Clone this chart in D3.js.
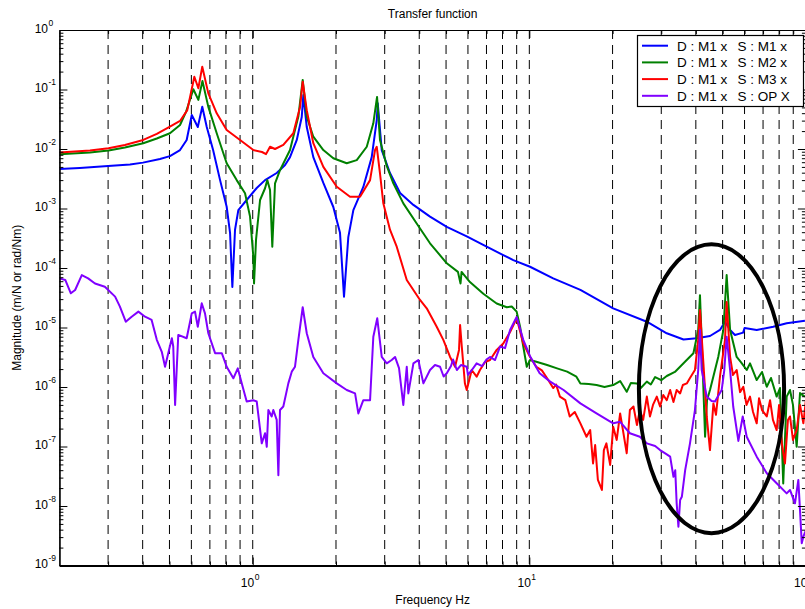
<!DOCTYPE html>
<html>
<head>
<meta charset="utf-8">
<script src="https://cdn.jsdelivr.net/npm/d3@7"></script>
<style>
  body { margin: 0; background: #fff; }
  text { font-family: "Liberation Sans", Arial, Helvetica, sans-serif; fill: #000; }
</style>
</head>
<body>
<svg id="chart" width="805" height="609"></svg>
<script>
// ---- data ----------------------------------------------------------------
const freqDomain = [0.2, 100];
const magDomain = [1e-9, 1];

const seriesLabels = [
  ["D : M1 x", "S : M1 x"],
  ["D : M1 x", "S : M2 x"],
  ["D : M1 x", "S : M3 x"],
  ["D : M1 x", "S : OP X"]
];
const seriesColors = ["#0000ff", "#008000", "#ff0000", "#8000ff"];

// [frequency Hz, magnitude]
const respM1 = [[0.2,4.6e-3],[0.237,4.8e-3],[0.3,5.2e-3],[0.36,5.5e-3],[0.401,5.9e-3],[0.462,6.8e-3],[0.502,7.6e-3],[0.546,9.6e-3],[0.577,1.42e-2],[0.602,3.73e-2],[0.633,2.34e-2],[0.657,5.14e-2],[0.682,2.34e-2],[0.719,9.6e-3],[0.762,3.0e-3],[0.805,1.07e-3],[0.828,3.9e-4],[0.844,4.8e-5],[0.863,4.4e-4],[0.887,9.4e-4],[0.951,1.39e-3],[1.034,2.21e-3],[1.108,3.0e-3],[1.221,3.95e-3],[1.309,5.4e-3],[1.364,7.3e-3],[1.443,1.42e-2],[1.504,3.45e-2],[1.524,8.1e-2],[1.568,2.34e-2],[1.656,7.3e-3],[1.8,2.69e-3],[1.956,1.06e-3],[2.068,3.9e-4],[2.138,3.3e-5],[2.216,3.3e-4],[2.311,9.4e-4],[2.511,2.3e-3],[2.693,7.3e-3],[2.808,3.07e-2],[2.831,5.9e-2],[2.927,9.6e-3],[3.135,3.95e-3],[3.41,1.82e-3],[3.81,1.15e-3],[4.375,7.3e-4],[5.03,4.9e-4],[5.94,3.4e-4],[7.01,2.28e-4],[8.05,1.65e-4],[8.75,1.36e-4],[10.06,1.05e-4],[12.2,6.7e-5],[15.3,4.3e-5],[20.1,2.1e-5],[26.6,1.25e-5],[31.4,8.0e-6],[36.1,6.3e-6],[40.3,6.6e-6],[45.0,7.2e-6],[48.9,9.1e-6],[51.0,1.25e-5],[53.2,9.1e-6],[55.4,7.5e-6],[59.3,8.2e-6],[60.0,9.8e-6],[66.4,9.1e-6],[76.2,1.03e-5],[85.2,1.18e-5],[99.2,1.3e-5]];

const respM2 = [[0.2,8.15e-3],[0.258,8.7e-3],[0.301,9.4e-3],[0.345,1.06e-2],[0.402,1.25e-2],[0.45,1.5e-2],[0.502,1.84e-2],[0.546,2.53e-2],[0.574,4.2e-2],[0.61,0.101],[0.636,6.7e-2],[0.658,0.139],[0.691,5.1e-2],[0.741,1.84e-2],[0.805,5.75e-3],[0.875,3.0e-3],[0.938,1.8e-3],[0.978,7.3e-4],[1.005,1.55e-4],[1.011,5.5e-5],[1.028,3.0e-4],[1.063,1.39e-3],[1.108,2.19e-3],[1.129,3.0e-3],[1.155,2.05e-3],[1.177,2.28e-4],[1.204,2.65e-3],[1.255,4.4e-3],[1.364,9.6e-3],[1.462,3.5e-2],[1.516,0.145],[1.568,3.5e-2],[1.656,1.61e-2],[1.8,9.6e-3],[1.956,7.0e-3],[2.187,5.75e-3],[2.377,6.5e-3],[2.584,1.09e-2],[2.729,2.7e-2],[2.815,7.5e-2],[2.885,1.42e-2],[3.051,5.2e-3],[3.224,2.65e-3],[3.503,1.22e-3],[3.916,5.6e-4],[4.375,2.6e-4],[5.03,1.2e-4],[5.52,8.6e-5],[5.64,5.5e-5],[5.69,8.6e-5],[6.1,5.8e-5],[6.82,3.7e-5],[7.62,2.53e-5],[8.29,2.19e-5],[8.64,2.25e-5],[9.0,1.85e-5],[9.26,1.03e-5],[9.51,4.8e-6],[9.79,2.19e-6],[10.06,2.84e-6],[10.6,2.66e-6],[11.6,2.34e-6],[12.6,2.06e-6],[13.7,1.81e-6],[14.8,1.49e-6],[15.3,1.15e-6],[16.4,1.12e-6],[17.5,1.08e-6],[18.7,1.0e-6],[20.1,1.08e-6],[21.3,1.26e-6],[22.5,8.3e-7],[23.3,1.17e-6],[24.5,1.15e-6],[25.3,9.6e-7],[26.6,1.23e-6],[27.5,1.1e-6],[28.5,1.47e-6],[30.0,1.3e-6],[31.4,1.53e-6],[33.6,1.79e-6],[36.1,2.5e-6],[39.2,3.7e-6],[40.8,9.1e-6],[41.4,3.5e-5],[42.0,6.2e-6],[43.2,1.46e-7],[43.9,6.0e-7],[45.0,8.9e-7],[48.2,3.2e-6],[50.3,9.1e-6],[51.7,7.6e-5],[53.2,9.1e-6],[56.2,3.2e-6],[58.3,2.6e-6],[61.1,1.93e-6],[62.8,2.5e-6],[66.4,1.31e-6],[69.4,1.79e-6],[72.2,1.01e-6],[74.8,1.42e-6],[78.4,6.9e-7],[80.6,9.6e-7],[82.8,2.4e-8],[85.2,6.9e-7],[87.6,8.9e-7],[89.8,5.0e-7],[92.6,9.9e-8],[95.2,7.9e-7],[99.2,6.9e-7]];

const respM3 = [[0.2,8.7e-3],[0.258,9.4e-3],[0.301,1.03e-2],[0.345,1.17e-2],[0.402,1.42e-2],[0.45,1.79e-2],[0.502,2.37e-2],[0.546,2.96e-2],[0.58,4.5e-2],[0.615,0.164],[0.636,0.105],[0.657,0.242],[0.691,8.6e-2],[0.741,3.98e-2],[0.805,2.09e-2],[0.9,1.42e-2],[1.005,9.6e-3],[1.08,8.9e-3],[1.117,8.2e-3],[1.155,1.09e-2],[1.204,1.0e-2],[1.29,1.17e-2],[1.402,1.84e-2],[1.483,5.1e-2],[1.516,0.135],[1.568,4.5e-2],[1.656,1.25e-2],[1.8,5.0e-3],[2.013,2.32e-3],[2.248,1.58e-3],[2.443,1.58e-3],[2.656,3.0e-3],[2.768,9.6e-3],[2.808,1.09e-2],[2.885,3.9e-3],[2.966,1.22e-3],[3.135,4.4e-4],[3.316,2.28e-4],[3.605,6.3e-5],[4.026,2.9e-5],[4.257,2.1e-5],[4.626,1.03e-5],[4.888,6.2e-6],[5.17,3.2e-6],[5.39,2.19e-6],[5.57,4.2e-6],[5.62,1.1e-5],[5.7,4.8e-6],[5.85,1.15e-6],[5.94,8.9e-7],[6.19,1.93e-6],[6.45,1.49e-6],[6.63,1.93e-6],[6.92,2.63e-6],[7.21,2.84e-6],[7.62,4.2e-6],[8.05,5.4e-6],[8.52,8.4e-6],[9.0,1.43e-5],[9.51,5.4e-6],[10.06,3.2e-6],[10.6,2.19e-6],[11.1,1.9e-6],[11.6,1.4e-6],[12.2,9.6e-7],[12.5,1.1e-6],[12.9,6.9e-7],[13.5,6.0e-7],[14.0,3.2e-7],[14.6,3.8e-7],[15.3,2.45e-7],[16.1,1.46e-7],[16.6,1.89e-7],[17.0,5.2e-8],[17.3,1.06e-7],[17.7,2.74e-8],[18.3,1.86e-8],[18.6,8.7e-8],[19.0,1.13e-7],[19.6,4.9e-8],[20.1,2.15e-7],[20.7,1.29e-7],[21.3,3.6e-7],[21.8,1.89e-7],[22.5,7.7e-8],[23.1,4.1e-7],[23.8,4.7e-7],[24.5,2.3e-7],[25.1,4.1e-7],[25.8,2.8e-7],[26.6,6.9e-7],[27.3,3.2e-7],[28.0,5.0e-7],[28.9,6.9e-7],[29.7,4.7e-7],[30.5,7.35e-7],[31.4,6.0e-7],[32.3,8.9e-7],[33.2,5.6e-7],[34.1,8.9e-7],[35.1,7.8e-7],[35.9,1.08e-6],[37.1,1.15e-6],[38.1,1.42e-6],[39.7,1.93e-6],[40.8,6.2e-6],[41.4,1.97e-5],[42.6,2.5e-6],[43.8,3.2e-7],[45.0,8.7e-8],[46.3,5.3e-7],[47.3,3.4e-7],[48.9,1.49e-6],[51.0,6.2e-6],[51.7,2.68e-5],[53.2,3.2e-6],[54.5,1.59e-6],[56.2,1.93e-6],[57.8,8.2e-7],[59.4,1.01e-6],[61.0,5.0e-7],[62.8,6.9e-7],[64.4,3.8e-7],[66.4,2.45e-7],[67.7,6.5e-7],[69.4,4.1e-7],[72.2,3.2e-7],[74.2,6.0e-7],[76.0,2.8e-7],[78.4,1.89e-7],[80.0,5.0e-7],[81.8,1.13e-7],[84.0,5.2e-8],[86.1,2.8e-7],[87.6,3.2e-7],[89.8,1.29e-7],[92.6,1.89e-7],[95.2,5.0e-7],[97.9,2.45e-7],[100,6.0e-7]];

const respOP = [[0.2,6.7e-5],[0.21,6.3e-5],[0.22,3.76e-5],[0.228,4.27e-5],[0.241,7.6e-5],[0.254,6.7e-5],[0.269,5.5e-5],[0.292,4.85e-5],[0.318,3.3e-5],[0.331,2.24e-5],[0.3475,1.25e-5],[0.365,1.52e-5],[0.386,1.85e-5],[0.408,1.52e-5],[0.431,1.34e-5],[0.45,6.2e-6],[0.469,3.9e-6],[0.482,2.19e-6],[0.495,3.7e-6],[0.51,6.6e-6],[0.516,4.8e-6],[0.524,5.0e-7],[0.538,7.5e-6],[0.577,6.6e-6],[0.602,1.73e-5],[0.6185,1.85e-5],[0.633,1.03e-5],[0.654,2.55e-5],[0.672,1.73e-5],[0.691,8.0e-6],[0.731,3.7e-6],[0.773,3.7e-6],[0.805,2.19e-6],[0.851,1.4e-6],[0.883,2.06e-6],[0.913,1.15e-6],[0.951,5.7e-7],[1.005,6.0e-7],[1.034,5.7e-7],[1.078,1.13e-7],[1.108,1.67e-7],[1.124,9.9e-8],[1.139,4.1e-7],[1.171,3.2e-7],[1.187,4.1e-7],[1.221,2.8e-7],[1.238,3.3e-8],[1.255,4.1e-7],[1.29,4.7e-7],[1.345,1.15e-6],[1.384,1.81e-6],[1.422,2.19e-6],[1.462,6.2e-6],[1.516,2.19e-5],[1.568,8.0e-6],[1.656,3.2e-6],[1.8,1.7e-6],[2.013,1.15e-6],[2.187,8.9e-7],[2.344,7.8e-7],[2.409,3.6e-7],[2.511,6.0e-7],[2.656,6.0e-7],[2.729,7.0e-6],[2.82,1.43e-5],[2.927,3.2e-6],[3.051,2.5e-6],[3.18,2.84e-6],[3.27,3.2e-6],[3.38,2.08e-6],[3.503,5.0e-7],[3.605,2.19e-6],[3.652,7.8e-7],[3.81,2.5e-6],[3.97,2.84e-6],[4.14,1.15e-6],[4.375,1.93e-6],[4.56,2.34e-6],[4.756,2.19e-6],[4.9,1.5e-6],[5.03,1.7e-6],[5.21,2.25e-6],[5.3,2.9e-6],[5.47,1.93e-6],[5.66,2.34e-6],[5.94,2.19e-6],[6.0,1.6e-6],[6.16,1.86e-6],[6.45,2.5e-6],[6.75,2.25e-6],[7.0,2.9e-6],[7.21,3.2e-6],[7.52,2.84e-6],[7.84,4.8e-6],[8.17,4.5e-6],[8.52,9.1e-6],[9.0,1.5e-5],[9.51,6.2e-6],[10.06,3.3e-6],[10.9,1.7e-6],[11.9,1.23e-6],[13.3,8.9e-7],[15.3,5.3e-7],[17.5,3.6e-7],[20.1,2.45e-7],[21.3,2.6e-7],[23.1,1.67e-7],[25.1,1.46e-7],[26.6,1.13e-7],[28.5,1.02e-7],[29.7,8.7e-8],[31.2,7.5e-8],[32.3,6.75e-8],[33.2,3.1e-8],[33.7,4.0e-8],[34.1,1.11e-8],[34.6,4.5e-9],[35.1,1.26e-8],[35.6,1.43e-8],[36.6,4.0e-8],[38.1,1.13e-7],[39.7,4.1e-7],[40.8,1.93e-6],[41.4,9.1e-6],[42.0,1.93e-6],[43.8,6.9e-7],[45.6,5.8e-7],[46.9,5.7e-7],[49.6,8.9e-7],[50.7,1.93e-6],[51.7,7.0e-6],[53.2,1.93e-6],[54.6,4.7e-7],[57.0,1.24e-7],[59.1,3.2e-7],[61.1,1.46e-7],[66.4,6.75e-8],[72.2,3.55e-8],[78.4,2.41e-8],[85.2,1.63e-8],[87.6,1.86e-8],[91.3,1.11e-8],[93.9,2.74e-8],[95.2,8.6e-9],[96.6,2.36e-9],[97.9,3.05e-9],[100,3.95e-9]];

const seriesData = [respM1, respM2, respM3, respOP];

// dashed vertical guides at every minor frequency step
const guideFreqs = [0.3,0.4,0.5,0.6,0.7,0.8,0.9,1,2,3,4,5,6,7,8,9,10,20,30,40,50,60,70,80,90];
const xLabelExps = [0, 1, 2];
const yLabelExps = [0, -1, -2, -3, -4, -5, -6, -7, -8, -9];

// band of interest around the 40-50 Hz modes (frequency span, magnitude span)
const markFreq = [24.9, 83.4];
const markMag = [3.5e-9, 2.5e-4];

// ---- layout --------------------------------------------------------------
const L = 59.4, R = 805.9, T = 30, B = 565.5;
const svg = d3.select("#chart");
svg.append("rect").attr("width", 805).attr("height", 609).attr("fill", "#fff");

const x = d3.scaleLog().domain(freqDomain).range([L, R]);
const y = d3.scaleLog().domain(magDomain).range([B, T]);

// tick sets
const yMajor = yLabelExps.map(e => Math.pow(10, e));
const yMinor = [];
for (let e = -9; e < 0; e++) for (let k = 2; k <= 9; k++) yMinor.push(k * Math.pow(10, e));
const xMajor = [1, 10];
const xMinor = guideFreqs.filter(f => xMajor.indexOf(f) < 0);

// guides
svg.append("g").selectAll("line").data(guideFreqs).join("line")
  .attr("x1", d => x(d)).attr("x2", d => x(d))
  .attr("y1", T).attr("y2", B)
  .attr("stroke", "#000").attr("stroke-width", 1)
  .attr("stroke-dasharray", "9,6");

// series
const clip = svg.append("defs").append("clipPath").attr("id", "plotClip");
clip.append("rect").attr("x", L).attr("y", T).attr("width", R - L).attr("height", B - T);

const line = d3.line().x(d => x(d[0])).y(d => y(d[1]));
svg.append("g").attr("clip-path", "url(#plotClip)")
  .selectAll("path").data(seriesData).join("path")
  .attr("d", d => line(d))
  .attr("fill", "none")
  .attr("stroke", (d, i) => seriesColors[i])
  .attr("stroke-width", 2)
  .attr("stroke-linejoin", "round");

// axes (MATLAB style: ticks point inward, box on all sides)
function styleAxis(g) {
  g.selectAll("text").remove();
  g.select(".domain").attr("stroke", "#000").attr("stroke-width", 1.2);
  g.selectAll(".tick line").attr("stroke", "#000").attr("stroke-width", 1);
}
const axes = svg.append("g");
axes.append("g").attr("transform", `translate(${L},0)`)
  .call(d3.axisLeft(y).tickValues(yMajor).tickSizeInner(-8).tickSizeOuter(0)).call(styleAxis);
axes.append("g").attr("transform", `translate(${L},0)`)
  .call(d3.axisLeft(y).tickValues(yMinor).tickSizeInner(-4).tickSizeOuter(0)).call(styleAxis);
axes.append("g").attr("transform", `translate(${R},0)`)
  .call(d3.axisRight(y).tickValues(yMajor).tickSizeInner(-8).tickSizeOuter(0)).call(styleAxis);
axes.append("g").attr("transform", `translate(${R},0)`)
  .call(d3.axisRight(y).tickValues(yMinor).tickSizeInner(-4).tickSizeOuter(0)).call(styleAxis);
const bottomAxis = axes.append("g").attr("transform", `translate(0,${B})`)
  .call(d3.axisBottom(x).tickValues(xMajor).tickSizeInner(-8).tickSizeOuter(0)).call(styleAxis);
bottomAxis.select(".domain").attr("stroke-width", 1.8);
axes.append("g").attr("transform", `translate(0,${B})`)
  .call(d3.axisBottom(x).tickValues(xMinor).tickSizeInner(-4).tickSizeOuter(0)).call(styleAxis);
axes.append("g").attr("transform", `translate(0,${T})`)
  .call(d3.axisTop(x).tickValues(xMajor).tickSizeInner(-8).tickSizeOuter(0)).call(styleAxis);
axes.append("g").attr("transform", `translate(0,${T})`)
  .call(d3.axisTop(x).tickValues(xMinor).tickSizeInner(-4).tickSizeOuter(0)).call(styleAxis);

// power-of-ten tick labels
const yLab = svg.append("g");
yLabelExps.forEach(e => {
  const yy = y(Math.pow(10, e));
  yLab.append("text").attr("x", 48).attr("y", yy + 2.5)
    .attr("text-anchor", "end").attr("font-size", 12).text("10");
  yLab.append("text").attr("x", 48.5).attr("y", yy - 4.5)
    .attr("font-size", 8.5).text(String(e));
});
const xLab = svg.append("g");
xLabelExps.forEach(e => {
  const xx = x(Math.pow(10, e));
  xLab.append("text").attr("x", xx + 1.5).attr("y", 587)
    .attr("text-anchor", "end").attr("font-size", 12).text("10");
  xLab.append("text").attr("x", xx + 2).attr("y", 580)
    .attr("font-size", 8.5).text(String(e));
});

// titles
svg.append("text").attr("x", (L + R) / 2).attr("y", 18).attr("text-anchor", "middle")
  .attr("font-size", 12).text("Transfer function");
svg.append("text").attr("x", (L + R) / 2).attr("y", 604).attr("text-anchor", "middle")
  .attr("font-size", 12).text("Frequency Hz");
svg.append("text").attr("transform", `translate(21,${(T + B) / 2}) rotate(-90)`)
  .attr("text-anchor", "middle").attr("font-size", 12).text("Magnitude (m/N or rad/Nm)");

// highlight ellipse
const ex0 = x(markFreq[0]), ex1 = x(markFreq[1]);
const ey0 = y(markMag[1]), ey1 = y(markMag[0]);
svg.append("ellipse")
  .attr("cx", (ex0 + ex1) / 2).attr("cy", (ey0 + ey1) / 2)
  .attr("rx", (ex1 - ex0) / 2).attr("ry", (ey1 - ey0) / 2)
  .attr("fill", "none").attr("stroke", "#000").attr("stroke-width", 4);

// legend
const lg = svg.append("g");
lg.append("rect").attr("x", 637.5).attr("y", 35.5).attr("width", 166).attr("height", 71)
  .attr("fill", "#fff").attr("stroke", "#000").attr("stroke-width", 1.2);
seriesLabels.forEach((lab, i) => {
  const ly = 45.7 + i * 16.7;
  lg.append("line").attr("x1", 642).attr("x2", 668).attr("y1", ly).attr("y2", ly)
    .attr("stroke", seriesColors[i]).attr("stroke-width", 2);
  lg.append("text").attr("x", 677).attr("y", ly + 4.8).attr("font-size", 13.5).text(lab[0]);
  lg.append("text").attr("x", 737.5).attr("y", ly + 4.8).attr("font-size", 13.5).text(lab[1]);
});
</script>
</body>
</html>
